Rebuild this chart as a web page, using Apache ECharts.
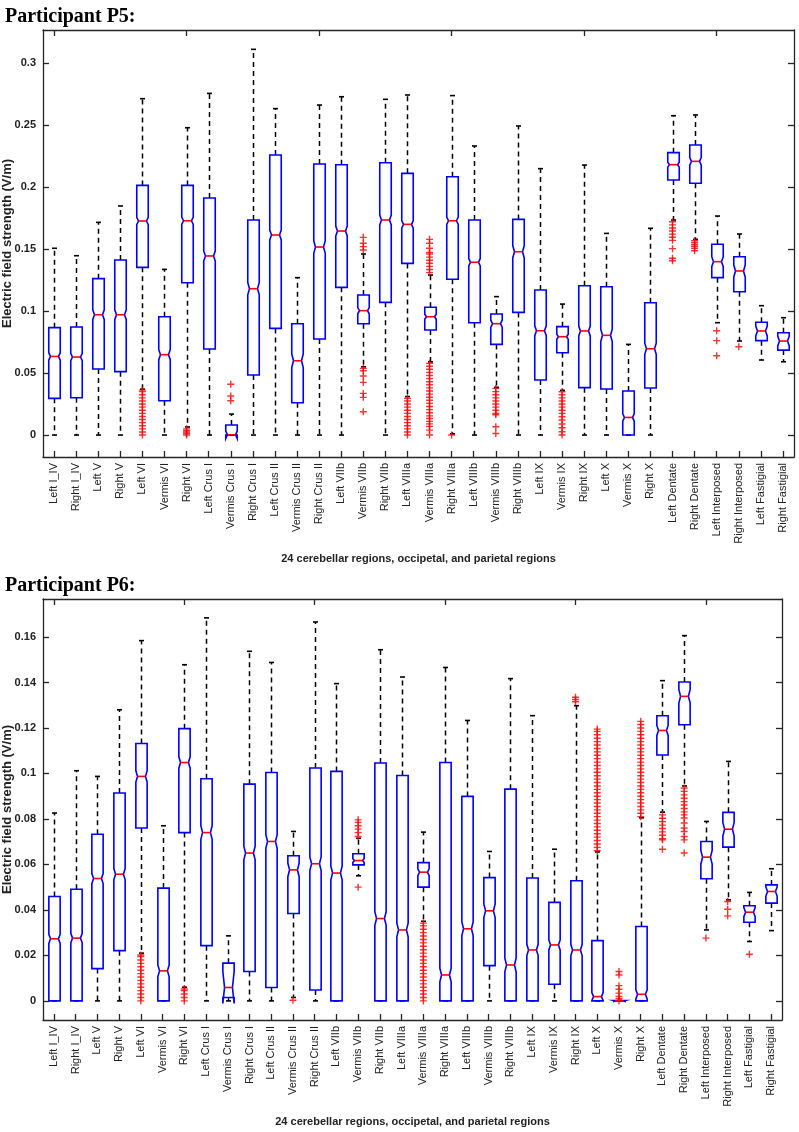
<!DOCTYPE html>
<html><head><meta charset="utf-8">
<script src="https://cdn.jsdelivr.net/npm/echarts@6/dist/echarts.min.js"></script>
<style>html,body{margin:0;padding:0;background:#fff}#c{width:799px;height:1132px}</style>
</head><body><div id="c"></div>
<script>
const categories = ['Left I_IV','Right I_IV','Left V','Right V','Left VI','Vermis VI','Right VI','Left Crus I','Vermis Crus I','Right Crus I','Left Crus II','Vermis Crus II','Right Crus II','Left VIIb','Vermis VIIb','Right VIIb','Left VIIIa','Vermis VIIIa','Right VIIIa','Left VIIIb','Vermis VIIIb','Right VIIIb','Left IX','Vermis IX','Right IX','Left X','Vermis X','Right X','Left Dentate','Right Dentate','Left Interposed','Right Interposed','Left Fastigial','Right Fastigial'];

// ---- Participant P5 ----
const p5Lower  = [0,0,0,0,0.037,0,0.0065,0,0,0,0,0,0,0,0.055,0,0.031,0.059,0.001,0,0.0385,0,0,0.036,0,0,0,0,0.1734,0.1578,0.0906,0.0758,0.0605,0.0591];
const p5Q1     = [0.0296,0.0301,0.0532,0.0511,0.1352,0.0277,0.1228,0.0694,0,0.0484,0.0860,0.0261,0.0774,0.1191,0.0898,0.1070,0.1384,0.0847,0.1256,0.0906,0.0731,0.0989,0.0444,0.0664,0.0382,0.0371,0,0.0379,0.2056,0.2030,0.1269,0.1156,0.0761,0.0685];
const p5Median = [0.0634,0.0629,0.0970,0.0970,0.1726,0.0648,0.1728,0.1444,0.0002,0.1180,0.1613,0.0599,0.1516,0.1645,0.1003,0.1734,0.1699,0.0954,0.1728,0.1393,0.0898,0.1478,0.0841,0.0793,0.0839,0.0804,0.0142,0.0696,0.2180,0.2207,0.1398,0.1323,0.0839,0.0758];
const p5Q3     = [0.0866,0.0871,0.1261,0.1411,0.2013,0.0954,0.2013,0.1911,0.0081,0.1734,0.2258,0.0898,0.2185,0.2180,0.1129,0.2196,0.2110,0.1030,0.2083,0.1734,0.0976,0.1739,0.1169,0.0874,0.1204,0.1196,0.0355,0.1067,0.2277,0.2339,0.1538,0.1438,0.0909,0.0825];
const p5Upper  = [0.1506,0.1446,0.1715,0.1847,0.2712,0.1336,0.2478,0.2755,0.0169,0.3110,0.2632,0.1269,0.2661,0.2728,0.1460,0.2707,0.2742,0.1290,0.2737,0.2331,0.1116,0.2492,0.2148,0.1056,0.2177,0.1626,0.0731,0.1667,0.2575,0.2581,0.1766,0.1621,0.1043,0.0946];
const p5Notch  = [0.003,0.003,0.004,0.004,0.003,0.004,0.003,0.004,0.003,0.005,0.004,0.0055,0.005,0.004,0.0025,0.004,0.003,0.002,0.003,0.003,0.003,0.005,0.004,0.002,0.004,0.005,0.003,0.0045,0.002,0.003,0.004,0.005,0.004,0.004];
const p5Outliers = [
  [],[],[],[],
  [0,0.0025,0.005,0.0075,0.01,0.0125,0.015,0.0175,0.02,0.0225,0.025,0.0275,0.03,0.0325,0.035,0.0362],
  [],
  [0,0.0012,0.0025,0.0037,0.005],
  [],
  [0.0409,0.0315,0.0277],
  [],[],[],[],[],
  [0.1594,0.1546,0.1519,0.1492,0.0538,0.0519,0.0476,0.0425,0.0336,0.0304,0.0188],
  [],
  [0,0.0025,0.005,0.0075,0.01,0.0125,0.015,0.0175,0.02,0.0225,0.025,0.0275,0.0296],
  [0.1578,0.1546,0.1506,0.1473,0.146,0.1435,0.141,0.1385,0.136,0.1335,0.131,
   0.0578,0.0555,0.053,0.0505,0.048,0.0455,0.043,0.0405,0.038,0.0355,0.033,0.0305,0.028,0.0255,0.023,0.0205,0.018,0.0155,0.0134,0.011,0.009,0.007,0.004,0],
  [0],
  [],
  [0.0376,0.035,0.0325,0.03,0.0275,0.025,0.0225,0.02,0.0175,0.0164,0.0067,0.0013],
  [],[],
  [0.0349,0.0325,0.03,0.0275,0.025,0.0225,0.02,0.0175,0.0148,0.0121,0.0089,0.0059,0.0027,0],
  [],[],[],[],
  [0.172,0.1695,0.167,0.1645,0.162,0.1595,0.157,0.1503,0.1425,0.1406],
  [0.1567,0.155,0.1535,0.152,0.1505,0.1486],
  [0.0841,0.0761,0.064],
  [0.0712],
  [],[]
];
const p5Ticks = [0,0.05,0.1,0.15,0.2,0.25,0.3];
const p5Min = -0.0177, p5Max = 0.3266;

// ---- Participant P6 ----
const p6Lower  = [0,0,0,0,0.021,0,0.006,0,0,0,0,0.0015,0,0,0.055,0,0,0.035,0,0,0,0,0,0,0,0,0,0,0.083,0.0945,0.0312,0.0444,0.0261,0.0309];
const p6Q1     = [0,0,0.0142,0.0221,0.0760,0,0.0740,0.0243,0.0015,0.0129,0.0059,0.0384,0.0048,0,0.0598,0,0,0.0500,0,0,0.0155,0,0,0.0073,0,0,0,0,0.1081,0.1214,0.0537,0.0676,0.0346,0.0430];
const p6Median = [0.0273,0.0276,0.0538,0.0557,0.0987,0.0132,0.1048,0.0740,0.0059,0.0650,0.0701,0.0576,0.0603,0.0562,0.0617,0.0362,0.0312,0.0566,0.0114,0.0317,0.0396,0.0158,0.0224,0.0246,0.0224,0.0019,0,0.0029,0.1189,0.1339,0.0632,0.0755,0.0390,0.0481];
const p6Q3     = [0.0459,0.0491,0.0733,0.0914,0.1132,0.0496,0.1197,0.0977,0.0166,0.0953,0.1004,0.0638,0.1024,0.1009,0.0647,0.1046,0.0991,0.0608,0.1048,0.0899,0.0542,0.0931,0.0540,0.0433,0.0528,0.0265,0.0002,0.0327,0.1254,0.1402,0.0701,0.0829,0.0418,0.0510];
const p6Upper  = [0.0826,0.1012,0.0987,0.1280,0.1584,0.0770,0.1478,0.1684,0.0286,0.1537,0.1488,0.0745,0.1666,0.1395,0.0715,0.1544,0.1424,0.0742,0.1466,0.1233,0.0657,0.1417,0.1254,0.0667,0.1298,0.0655,0.0002,0.0805,0.1408,0.1606,0.0789,0.1053,0.0477,0.0581];
const p6Notch  = [0.002,0.002,0.0022,0.0025,0.0025,0.0026,0.0025,0.003,0.007,0.003,0.003,0.003,0.003,0.003,0.0008,0.003,0.003,0.0015,0.003,0.003,0.003,0.003,0.0025,0.0022,0.0025,0.0018,0.0002,0.002,0.0022,0.003,0.003,0.003,0.002,0.002];
const p6Outliers = [
  [],[],[],[],
  [0,0.0015,0.003,0.0045,0.006,0.0075,0.009,0.0105,0.012,0.0135,0.015,0.0165,0.018,0.0195,0.0202],
  [],
  [0,0.0015,0.003,0.0045,0.0052],
  [],[],[],[],
  [0.0003],
  [],[],
  [0.0796,0.0785,0.077,0.0755,0.074,0.0723,0.05],
  [],[],
  [0,0.0015,0.003,0.0045,0.006,0.0075,0.009,0.0105,0.012,0.0135,0.015,0.0165,0.018,0.0195,0.021,0.0225,0.024,0.0255,0.027,0.0285,0.03,0.0315,0.033,0.0342],
  [],[],[],[],[],[],
  [0.1335,0.1325,0.1315],
  [0.066,0.0675,0.069,0.0705,0.072,0.0735,0.075,0.0765,0.078,0.0795,0.081,0.0825,0.084,0.0855,0.087,0.0885,0.09,0.0915,0.093,0.0945,0.096,0.0975,0.099,0.1005,0.102,0.1035,0.105,0.1065,0.108,0.1095,0.111,0.1125,0.114,0.1155,0.117,0.1185,0.1195],
  [0.0129,0.0114,0.0067,0.0051,0.0034,0.0019,0.001,0],
  [0.081,0.0825,0.084,0.0855,0.087,0.0885,0.09,0.0915,0.093,0.0945,0.096,0.0975,0.099,0.1005,0.102,0.1035,0.105,0.1065,0.108,0.1095,0.111,0.1125,0.114,0.1155,0.117,0.1185,0.12,0.1215,0.1229],
  [0.0818,0.0803,0.0788,0.0773,0.0758,0.0743,0.0728,0.0713,0.0708,0.0667],
  [0.0936,0.0921,0.0906,0.0891,0.0876,0.0861,0.0846,0.0831,0.0818,0.0804,0.0782,0.076,0.0745,0.0723,0.0708,0.065],
  [0.0276],
  [0.0437,0.0403,0.0374],
  [0.0205],
  []
];
const p6Ticks = [0,0.02,0.04,0.06,0.08,0.1,0.12,0.14,0.16];
const p6Min = -0.0084, p6Max = 0.1767;

const xName = '24 cerebellar regions, occipetal, and parietal regions';
const yName = 'Electric field strength (V/m)';
const titles = ['Participant P5:', 'Participant P6:'];

const panels = [
  {lower:p5Lower,q1:p5Q1,median:p5Median,q3:p5Q3,upper:p5Upper,notch:p5Notch,outliers:p5Outliers,ticks:p5Ticks,min:p5Min,max:p5Max,
   grid:{left:43,top:30,width:751,height:427}, titleTop:2},
  {lower:p6Lower,q1:p6Q1,median:p6Median,q3:p6Q3,upper:p6Upper,notch:p6Notch,outliers:p6Outliers,ticks:p6Ticks,min:p6Min,max:p6Max,
   grid:{left:43,top:599,width:739,height:421}, titleTop:571}
];

const AX = '#262626';
const FONT = 'Liberation Sans, Arial, sans-serif';

function renderBox(params, api) {
  const i = api.value(0);
  const lo = api.value(1), q1 = api.value(2), med = api.value(3), q3 = api.value(4), up = api.value(5), nt = api.value(6);
  const band = api.size([1, 0])[0];
  const cx = Math.round(api.coord([i, med])[0]) + 0.5;
  const bw = band * 0.52;
  const L = cx - bw / 2, R = cx + bw / 2, d = bw * 0.15;
  const Y = v => api.coord([i, v])[1];
  const capHalf = 2.5;
  const wStyle = {stroke: '#000', lineWidth: 1.5, lineDash: [5, 4], fill: null};
  const cStyle = {stroke: '#000', lineWidth: 1.6, fill: null};
  const ch = [];
  ch.push({type: 'line', shape: {x1: cx, y1: Y(q3), x2: cx, y2: Y(up)}, style: wStyle});
  ch.push({type: 'line', shape: {x1: cx, y1: Y(q1), x2: cx, y2: Y(lo)}, style: wStyle});
  ch.push({type: 'line', shape: {x1: cx - capHalf, y1: Y(up), x2: cx + capHalf, y2: Y(up)}, style: cStyle});
  ch.push({type: 'line', shape: {x1: cx - capHalf, y1: Y(lo), x2: cx + capHalf, y2: Y(lo)}, style: cStyle});
  const pts = [[L, Y(q1)], [L, Y(med - nt)], [L + d, Y(med)], [L, Y(med + nt)], [L, Y(q3)],
               [R, Y(q3)], [R, Y(med + nt)], [R - d, Y(med)], [R, Y(med - nt)], [R, Y(q1)]];
  ch.push({type: 'polygon', shape: {points: pts}, style: {fill: null, stroke: '#0000ff', lineWidth: 1.6}});
  ch.push({type: 'line', shape: {x1: L + d, y1: Y(med), x2: R - d, y2: Y(med)}, style: {stroke: '#ff0000', lineWidth: 1.6}});
  return {type: 'group', children: ch};
}

const option = {
  animation: false,
  backgroundColor: '#fff',
  title: titles.map((t, k) => ({
    text: t, left: 0, top: panels[k].titleTop,
    textStyle: {fontFamily: 'Liberation Serif, Times New Roman, serif', fontSize: 20, fontWeight: 'bold', color: '#000'}
  })),
  grid: panels.map(p => Object.assign({outerBoundsMode: 'none', containLabel: false}, p.grid)),
  xAxis: [], yAxis: [], series: []
};

panels.forEach((p, k) => {
  const xb = option.xAxis.length, yb = option.yAxis.length;
  option.xAxis.push({
    type: 'category', gridIndex: k, data: categories, boundaryGap: true, position: 'bottom',
    axisLine: {show: true, onZero: false, lineStyle: {color: AX, width: 1.3}},
    axisTick: {show: true, inside: true, alignWithLabel: true, length: 6, lineStyle: {color: AX, width: 1.3}},
    axisLabel: {show: true, interval: 0, rotate: 90, margin: 6, fontSize: 11, color: '#222', fontFamily: FONT},
    name: xName, nameLocation: 'middle', nameGap: 96, nameMoveOverlap: false,
    nameTextStyle: {fontSize: 11, fontWeight: 'bold', color: '#222', fontFamily: FONT},
    splitLine: {show: false}
  });
  option.xAxis.push({
    type: 'category', gridIndex: k, data: categories, boundaryGap: true, position: 'top',
    axisLine: {show: true, onZero: false, lineStyle: {color: AX, width: 1.3}},
    axisTick: {show: true, inside: true, alignWithLabel: true, length: 6, lineStyle: {color: AX, width: 1.3}},
    axisLabel: {show: false}, splitLine: {show: false}
  });
  option.yAxis.push({
    type: 'value', gridIndex: k, min: p.min, max: p.max, position: 'left',
    axisLine: {show: true, onZero: false, lineStyle: {color: AX, width: 1.3}},
    axisTick: {show: true, inside: true, length: 6, customValues: p.ticks, lineStyle: {color: AX, width: 1.3}},
    axisLabel: {show: true, customValues: p.ticks, margin: 7, fontSize: 11, fontWeight: 'bold', color: '#222', fontFamily: FONT,
                formatter: v => String(+v.toFixed(4))},
    splitLine: {show: false},
    name: yName, nameLocation: 'middle', nameGap: 29, nameMoveOverlap: false,
    nameTextStyle: {fontSize: 13, fontWeight: 'bold', color: '#222', fontFamily: FONT}
  });
  option.yAxis.push({
    type: 'value', gridIndex: k, min: p.min, max: p.max, position: 'right',
    axisLine: {show: true, onZero: false, lineStyle: {color: AX, width: 1.3}},
    axisTick: {show: true, inside: true, length: 6, customValues: p.ticks, lineStyle: {color: AX, width: 1.3}},
    axisLabel: {show: false}, splitLine: {show: false}
  });
  option.series.push({
    type: 'custom', xAxisIndex: xb, yAxisIndex: yb, renderItem: renderBox, clip: false,
    data: categories.map((c, i) => [i, p.lower[i], p.q1[i], p.median[i], p.q3[i], p.upper[i], p.notch[i]]),
    z: 2
  });
  const pts = [];
  p.outliers.forEach((arr, i) => arr.forEach(v => pts.push([i, v])));
  option.series.push({
    type: 'scatter', xAxisIndex: xb, yAxisIndex: yb, data: pts,
    symbol: 'path://M4,0H6V4H10V6H6V10H4V6H0V4H4Z', symbolSize: 7,
    itemStyle: {color: '#ff0000'}, z: 3, silent: true
  });
});

const chart = echarts.init(document.getElementById('c'), null, {renderer: 'canvas'});
chart.setOption(option);
</script>
</body></html>
